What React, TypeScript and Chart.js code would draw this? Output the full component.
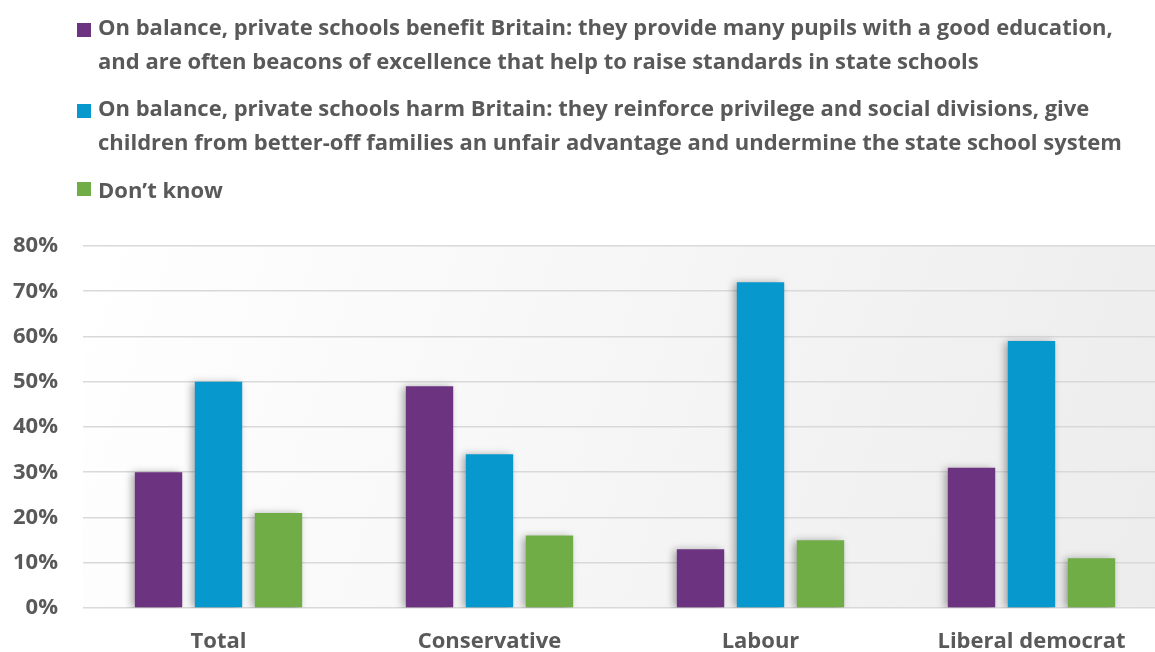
import React, { useEffect, useRef } from "react";
import { Chart, registerables } from "chart.js";

Chart.register(...registerables);

const categories = ["Total", "Conservative", "Labour", "Liberal democrat"];
const benefitValues = [30, 49, 13, 31];
const harmValues = [50, 34, 72, 59];
const dontKnowValues = [21, 16, 15, 11];
const yTicks = [0, 10, 20, 30, 40, 50, 60, 70, 80];

const seriesLabels = [
  [
    "On balance, private schools benefit Britain: they provide many pupils with a good education,",
    "and are often beacons of excellence that help to raise standards in state schools",
  ],
  [
    "On balance, private schools harm Britain: they reinforce privilege and social divisions, give",
    "children from better-off families an unfair advantage and undermine the state school system",
  ],
  ["Don\u2019t know"],
];
const seriesColors = ["#6C3380", "#0799CE", "#70AD47"];

const FONT = "'Open Sans', Lato, sans-serif";
const AXIS_FONT = "'Open Sans', Lato, sans-serif";
const TEXT = "#595959";

const bgPlugin = {
  id: "plotBg",
  beforeDraw(chart: any) {
    const { ctx, chartArea: a } = chart;
    const g = ctx.createLinearGradient(a.left, a.top, a.right, a.bottom);
    g.addColorStop(0, "#FFFFFF");
    g.addColorStop(1, "#ECECEC");
    ctx.save();
    ctx.fillStyle = g;
    ctx.fillRect(a.left, a.top, a.right - a.left, a.bottom - a.top);
    ctx.restore();
  },
  beforeDatasetsDraw(chart: any) {
    const ctx = chart.ctx;
    ctx.save();
    ctx.shadowColor = "rgba(0,0,0,0.35)";
    ctx.shadowBlur = 8;
    ctx.shadowOffsetX = -3;
    ctx.shadowOffsetY = 1;
  },
  afterDatasetsDraw(chart: any) {
    chart.ctx.restore();
  },
};

const CANVAS_W = 1167;

export default function App() {
  const ref = useRef<HTMLCanvasElement | null>(null);

  useEffect(() => {
    document.body.style.margin = "0";
    const values = [benefitValues, harmValues, dontKnowValues];
    const chart = new Chart(ref.current as HTMLCanvasElement, {
      type: "bar",
      data: {
        labels: categories,
        datasets: values.map((v, i) => ({
          label: seriesLabels[i].join(" "),
          data: v,
          backgroundColor: seriesColors[i],
          borderWidth: 0,
          categoryPercentage: 0.664,
          barPercentage: 0.79,
        })),
      },
      plugins: [bgPlugin],
      options: {
        animation: false,
        responsive: false,
        maintainAspectRatio: false,
        layout: { padding: { top: 246, right: 0, left: 0, bottom: 0 } },
        plugins: {
          legend: { display: false },
          tooltip: { enabled: false },
          title: { display: false },
        },
        scales: {
          x: {
            grid: { display: false, drawTicks: false },
            border: { display: false },
            ticks: {
              color: TEXT,
              font: { family: AXIS_FONT, size: 22, weight: "bold", lineHeight: 1 },
              padding: 23,
            },
            afterFit(s: any) {
              s.height = 44;
            },
          },
          y: {
            min: 0,
            max: 80,
            afterBuildTicks(s: any) {
              s.ticks = yTicks.map((v) => ({ value: v }));
            },
            grid: { color: "#D9D9D9", lineWidth: 1.6, drawTicks: false },
            border: { display: false },
            ticks: {
              color: TEXT,
              font: { family: AXIS_FONT, size: 22, weight: "bold" },
              padding: 25,
              callback: (v: any) => v + "%",
            },
            afterFit(s: any) {
              s.width = 83;
            },
          },
        },
      },
    });
    return () => chart.destroy();
  }, []);

  const itemTops = [9, 90, 172];
  const squareTops = [23, 104, 182];

  return (
    <div style={{ position: "relative", width: 1155, height: 652, overflow: "hidden", background: "#fff" }}>
      <canvas
        ref={ref}
        width={CANVAS_W}
        height={652}
        style={{ position: "absolute", left: 0, top: 0, width: CANVAS_W, height: 652 }}
      />
      {seriesLabels.map((lines, i) => (
        <React.Fragment key={i}>
          <div
            style={{
              position: "absolute",
              left: 77,
              top: squareTops[i],
              width: 14,
              height: 14,
              background: seriesColors[i],
            }}
          />
          <div
            style={{
              position: "absolute",
              left: 98,
              top: itemTops[i],
              fontFamily: FONT,
              fontWeight: 700,
              fontSize: 22,
              lineHeight: "34px",
              color: TEXT,
              whiteSpace: "nowrap",
            }}
          >
            {lines.map((l, j) => (
              <div key={j}>{l}</div>
            ))}
          </div>
        </React.Fragment>
      ))}
    </div>
  );
}
